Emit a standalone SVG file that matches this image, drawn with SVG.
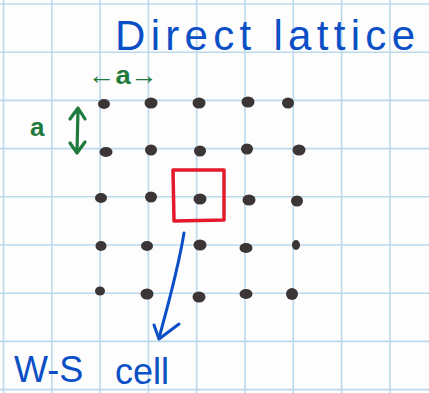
<svg xmlns="http://www.w3.org/2000/svg" width="429" height="393" viewBox="0 0 429 393">
  <defs>
    <style>
      .grid line { stroke: #bcd9ec; stroke-width: 1.6; }
      .dot { fill: #3b3536; }
      .blue { fill: #0b4fc6; font-family: "Liberation Sans", "Noto Sans", sans-serif; }
      .green { fill: #1f7a3c; font-family: "Liberation Sans", "Noto Sans", sans-serif; font-weight: bold; }
      .gstroke { stroke: #1f7a3c; stroke-width: 3.2; fill: none; stroke-linecap: round; stroke-linejoin: round; }
      .bstroke { stroke: #0b4fc6; stroke-width: 3; fill: none; stroke-linecap: round; stroke-linejoin: round; }
    </style>
  </defs>
  <rect width="429" height="393" fill="#fdfdfd"/>
  <g class="grid" id="grid">
    <line x1="3.5" y1="0" x2="3.5" y2="393"/>
    <line x1="51.8" y1="0" x2="51.8" y2="393"/>
    <line x1="100.1" y1="0" x2="100.1" y2="393"/>
    <line x1="148.4" y1="0" x2="148.4" y2="393"/>
    <line x1="196.7" y1="0" x2="196.7" y2="393"/>
    <line x1="245" y1="0" x2="245" y2="393"/>
    <line x1="293.3" y1="0" x2="293.3" y2="393"/>
    <line x1="341.6" y1="0" x2="341.6" y2="393"/>
    <line x1="389.9" y1="0" x2="389.9" y2="393"/>
    <line x1="0" y1="4" x2="429" y2="4"/>
    <line x1="0" y1="52.2" x2="429" y2="52.2"/>
    <line x1="0" y1="100.4" x2="429" y2="100.4"/>
    <line x1="0" y1="148.6" x2="429" y2="148.6"/>
    <line x1="0" y1="196.8" x2="429" y2="196.8"/>
    <line x1="0" y1="245" x2="429" y2="245"/>
    <line x1="0" y1="293.2" x2="429" y2="293.2"/>
    <line x1="0" y1="341.4" x2="429" y2="341.4"/>
    <line x1="0" y1="389.6" x2="429" y2="389.6"/>
  </g>
  <g id="title">
    <text class="blue" x="115" y="50" font-size="42" textLength="300" lengthAdjust="spacing">Direct lattice</text>
  </g>
  <g id="lattice">
    <ellipse class="dot" cx="104" cy="104" rx="6" ry="5"/>
    <ellipse class="dot" cx="151" cy="103" rx="6.5" ry="5.5"/>
    <ellipse class="dot" cx="199" cy="103" rx="6.5" ry="5.5"/>
    <ellipse class="dot" cx="248" cy="102" rx="6.5" ry="5.5"/>
    <ellipse class="dot" cx="288" cy="103" rx="6" ry="5.5"/>
    <ellipse class="dot" cx="106" cy="152" rx="6.5" ry="5"/>
    <ellipse class="dot" cx="151" cy="150" rx="6" ry="5.5"/>
    <ellipse class="dot" cx="200" cy="151" rx="6" ry="5.5"/>
    <ellipse class="dot" cx="247" cy="149" rx="6" ry="5.5"/>
    <ellipse class="dot" cx="299" cy="150" rx="6.5" ry="5.5"/>
    <ellipse class="dot" cx="101" cy="198" rx="6" ry="5"/>
    <ellipse class="dot" cx="151" cy="197" rx="6" ry="5.5"/>
    <ellipse class="dot" cx="200" cy="199" rx="6.5" ry="5.5"/>
    <ellipse class="dot" cx="249" cy="200" rx="6.5" ry="5.5"/>
    <ellipse class="dot" cx="297" cy="201" rx="6" ry="5.5"/>
    <ellipse class="dot" cx="101" cy="246" rx="5.5" ry="5"/>
    <ellipse class="dot" cx="147" cy="246" rx="6" ry="5"/>
    <ellipse class="dot" cx="200" cy="245" rx="6.5" ry="5.5"/>
    <ellipse class="dot" cx="246" cy="248" rx="6.5" ry="5"/>
    <ellipse class="dot" cx="296" cy="245" rx="4" ry="5"/>
    <ellipse class="dot" cx="100" cy="291" rx="5" ry="4.5"/>
    <ellipse class="dot" cx="147" cy="294" rx="6.5" ry="5.5"/>
    <ellipse class="dot" cx="199" cy="297" rx="6.5" ry="5.5"/>
    <ellipse class="dot" cx="246" cy="294" rx="6.5" ry="5"/>
    <ellipse class="dot" cx="292" cy="294" rx="6" ry="6"/>
  </g>
  <g id="ws-cell">
    <path d="M173 170 L224 170 L224 220 L174 221 Z" fill="none" stroke="#e4192c" stroke-width="3.5" stroke-linejoin="round"/>
  </g>
  <g id="spacing-labels">
    <text class="green" x="88" y="84" font-size="26" textLength="70" lengthAdjust="spacingAndGlyphs">←a→</text>
    <text class="green" x="30" y="136" font-size="26">a</text>
    <path class="gstroke" d="M78 110 L77 152 M70 119 L78 108 L85 119 M70 143 L77 153 L85 142"/>
  </g>
  <g id="connectors">
    <path class="bstroke" d="M184 233 C178 270 168 305 159 338"/>
    <path class="bstroke" d="M154 325 L159 339 L179 324"/>
  </g>
  <g id="ws-label">
    <text class="blue" font-size="36"><tspan x="14" y="382">W-S</tspan><tspan x="115" y="384">cell</tspan></text>
  </g>
</svg>
